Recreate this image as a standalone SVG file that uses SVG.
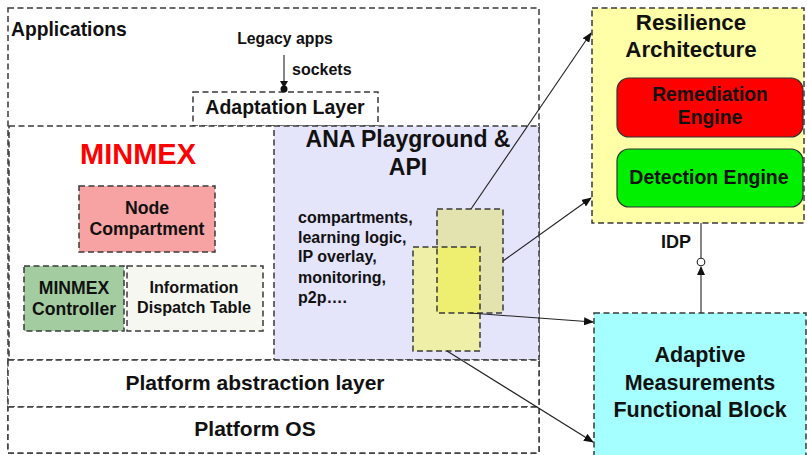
<svg xmlns="http://www.w3.org/2000/svg" width="807" height="455" viewBox="0 0 807 455">
<style>
.d{stroke:#3a3a3a;stroke-width:1.5;stroke-dasharray:6,3.5}
.t{font-family:"Liberation Sans",Arial,sans-serif;font-weight:bold;fill:#111;text-anchor:middle}
.c{stroke:#222;stroke-width:1.1;fill:none}
</style>
<defs>
<marker id="ah" markerWidth="10" markerHeight="8" refX="9" refY="4" orient="auto" markerUnits="userSpaceOnUse"><path d="M0,0 L10,4 L0,8 Z" fill="#111"/></marker>
<marker id="ahb" markerWidth="16" markerHeight="12" refX="15" refY="6" orient="auto" markerUnits="userSpaceOnUse"><path d="M4,2 L11,6 L4,10 Z" fill="#111"/><circle cx="12" cy="6" r="3.5" fill="#111"/></marker>
</defs>
<rect width="807" height="455" fill="#fff"/>
<g id="applications">
<rect x="8" y="8" width="531" height="445" fill="#fff" class="d"/>
<text x="11" y="36" class="t" style="text-anchor:start;font-size:19.3px">Applications</text>
<text x="285" y="44" class="t" style="font-size:15.8px">Legacy apps</text>
<text x="292" y="75" class="t" style="text-anchor:start;font-size:16px">sockets</text>
</g>
<g id="adaptation">
<rect x="193" y="92" width="185" height="34" fill="#fff" class="d"/>
<text x="285" y="114" class="t" style="font-size:19.5px">Adaptation Layer</text>
</g>
<g id="minmex">
<rect x="9" y="126" width="266" height="234" fill="#fff" class="d"/>
<text x="138" y="164" class="t" style="font-size:29px;fill:#f00">MINMEX</text>
</g>
<g id="node-compartment">
<rect x="79" y="186" width="136" height="66" fill="#f8a3a3" class="d"/>
<text x="147" y="214" class="t" style="font-size:17.7px">Node</text>
<text x="147" y="235" class="t" style="font-size:17.7px">Compartment</text>
</g>
<g id="minmex-controller">
<rect x="24" y="266" width="100" height="65" fill="#a3cda0" class="d"/>
<text x="74" y="294" class="t" style="font-size:17.6px">MINMEX</text>
<text x="74" y="315" class="t" style="font-size:17.6px">Controller</text>
</g>
<g id="info-dispatch">
<rect x="127" y="266" width="136" height="65" fill="#f7f7f2" class="d"/>
<text x="194" y="293" class="t" style="font-size:16.2px">Information</text>
<text x="194" y="313" class="t" style="font-size:16.2px">Dispatch Table</text>
</g>
<g id="ana">
<rect x="274" y="126" width="265" height="234" fill="#e4e4fb" class="d"/>
<text x="408" y="147" class="t" style="font-size:23px">ANA Playground &amp;</text>
<text x="408" y="175" class="t" style="font-size:23px">API</text>
<g class="t" style="text-anchor:start;font-size:16px">
<text x="298" y="223">compartments,</text>
<text x="298" y="243">learning logic,</text>
<text x="298" y="262">IP overlay,</text>
<text x="298" y="283">monitoring,</text>
<text x="298" y="303">p2p….</text>
</g>
</g>
<g id="compartment-boxes">
<rect x="437" y="209" width="66" height="104" fill="#e3e3b0"/>
<rect x="413" y="247" width="67" height="104" fill="#efefa8"/>
<rect x="437" y="247" width="43" height="66" fill="#eeee70"/>
<rect x="437" y="209" width="66" height="104" fill="none" class="d"/>
<rect x="413" y="247" width="67" height="104" fill="none" class="d"/>
</g>
<g id="platform-abstraction">
<rect x="8" y="360" width="531" height="47" fill="#fff" class="d"/>
<text x="255" y="390" class="t" style="font-size:21px">Platform abstraction layer</text>
</g>
<g id="platform-os">
<rect x="8" y="407" width="531" height="46" fill="#fff" class="d"/>
<text x="255" y="436" class="t" style="font-size:21px">Platform OS</text>
</g>
<g id="resilience">
<rect x="592" y="8" width="212" height="215" fill="#ffffa8" class="d"/>
<text x="691" y="30" class="t" style="font-size:22.3px">Resilience</text>
<text x="691" y="57" class="t" style="font-size:22.3px">Architecture</text>
</g>
<g id="remediation">
<rect x="617" y="78" width="186" height="59" rx="12" fill="#ff0000" stroke="#333" stroke-width="1.2"/>
<text x="710" y="101" class="t" style="font-size:19.3px">Remediation</text>
<text x="710" y="124" class="t" style="font-size:19.3px">Engine</text>
</g>
<g id="detection">
<rect x="617" y="149" width="186" height="58" rx="12" fill="#00f000" stroke="#333" stroke-width="1.2"/>
<text x="709" y="184" class="t" style="font-size:19.5px">Detection Engine</text>
</g>
<g id="adaptive">
<rect x="594" y="313" width="212" height="145" fill="#a5ffff" class="d"/>
<text x="700" y="362" class="t" style="font-size:21.5px">Adaptive</text>
<text x="700" y="390" class="t" style="font-size:21.5px">Measurements</text>
<text x="700" y="417" class="t" style="font-size:21.5px">Functional Block</text>
</g>
<g id="connectors">
<line x1="284" y1="55" x2="284" y2="92" class="c" marker-end="url(#ahb)"/>
<line x1="471" y1="209" x2="591" y2="33" class="c" marker-end="url(#ah)"/>
<line x1="503" y1="261" x2="591" y2="198" class="c" marker-end="url(#ah)"/>
<line x1="470" y1="313" x2="593" y2="322" class="c" marker-end="url(#ah)"/>
<line x1="447" y1="351" x2="593" y2="442" class="c" marker-end="url(#ah)"/>
<line x1="701" y1="313" x2="701" y2="267" class="c"/>
<path d="M697,275 L701,266 L705,275 Z" fill="#111"/>
<line x1="701" y1="258" x2="701" y2="223" class="c"/>
<circle cx="701" cy="262" r="3.8" fill="#fff" stroke="#222" stroke-width="1.1"/>
<text x="661" y="248" class="t" style="text-anchor:start;font-size:18px">IDP</text>
</g>
</svg>
